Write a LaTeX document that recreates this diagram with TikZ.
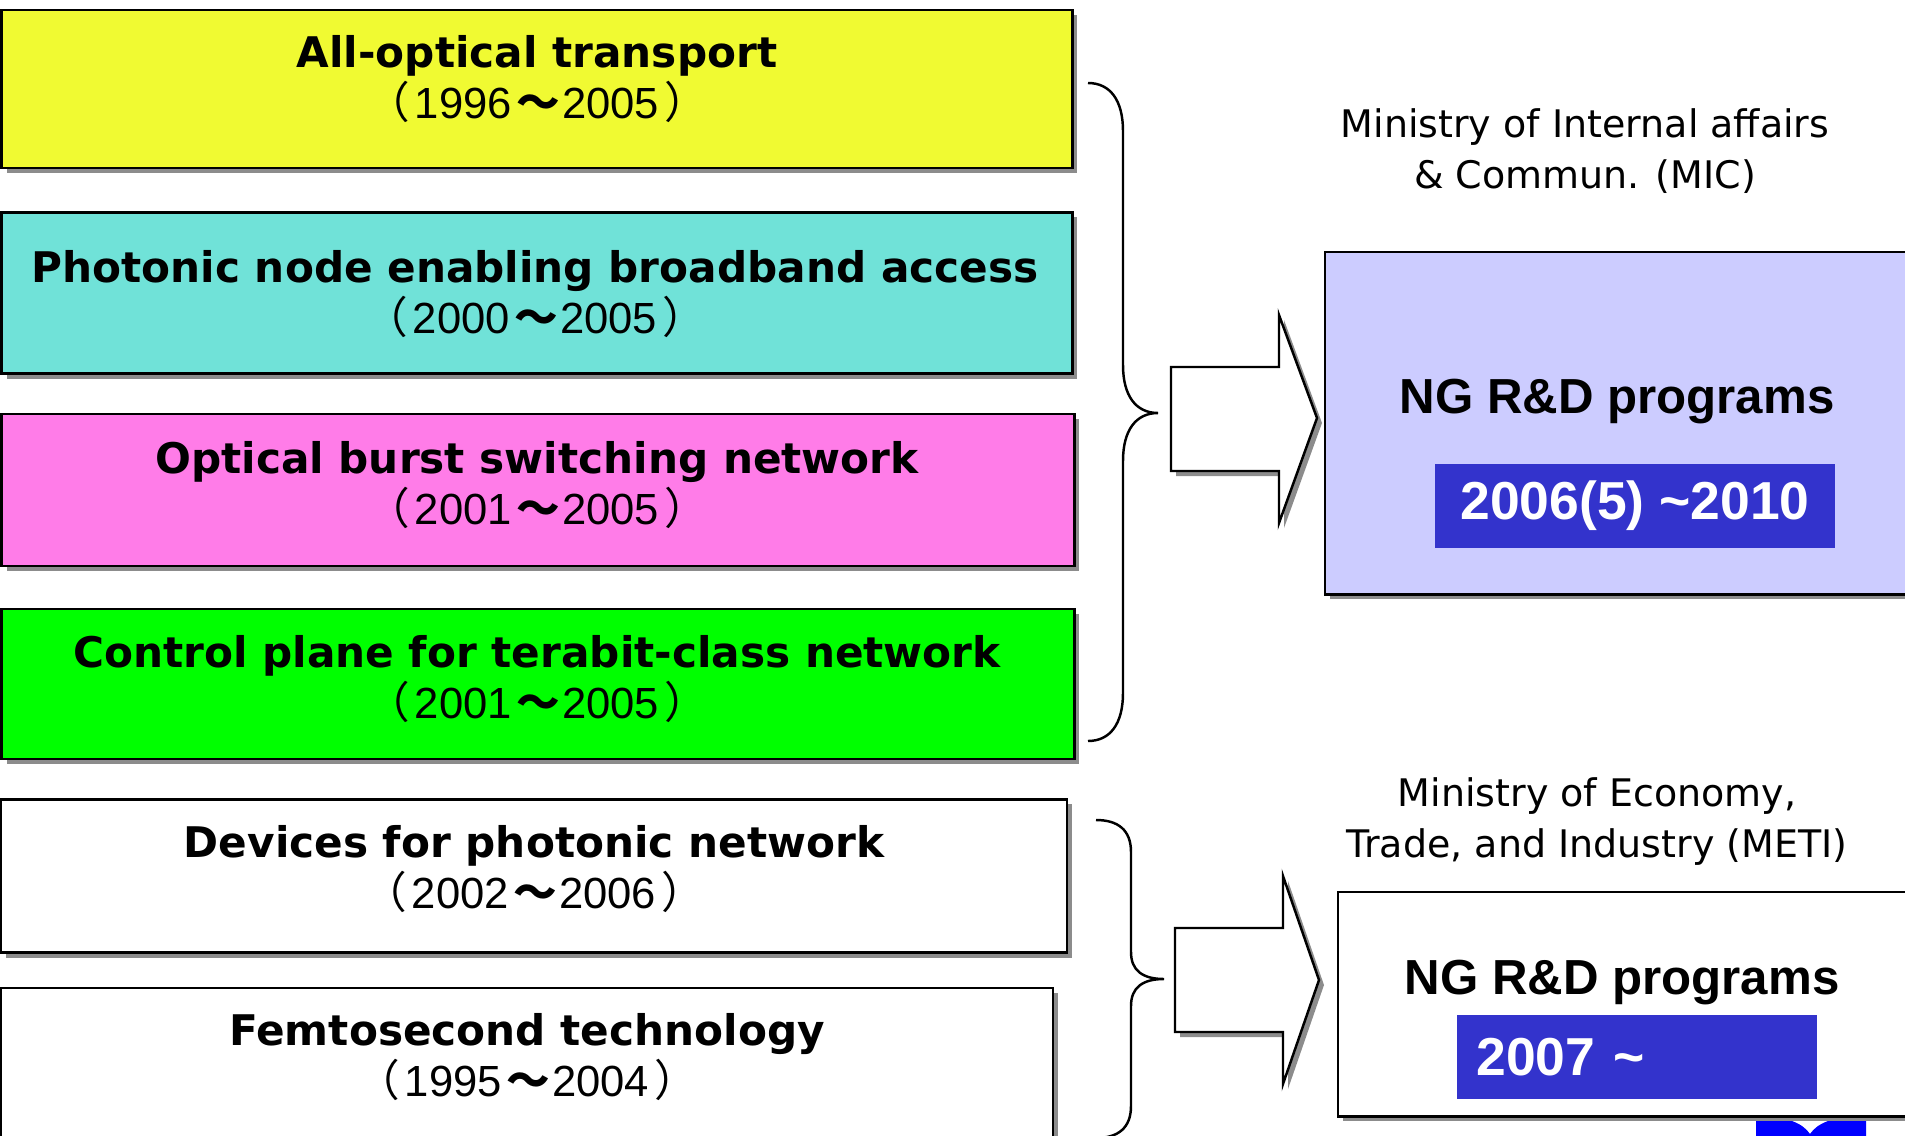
\documentclass[tikz,border=0pt]{standalone}
\usepackage{fontspec}
\setmainfont{DejaVu Sans}
\newfontfamily\cjk{Noto Sans CJK JP}
\newfontfamily\arial{Liberation Sans}
\usetikzlibrary{shadows}

\definecolor{aotyellow}{RGB}{240,250,50}
\definecolor{pnbcyan}{RGB}{112,226,216}
\definecolor{obspink}{RGB}{255,124,232}
\definecolor{cpgreen}{RGB}{0,255,0}
\definecolor{miclilac}{RGB}{204,204,255}
\definecolor{yearblue}{RGB}{51,51,204}
\definecolor{logoblue}{RGB}{0,0,255}

\newcommand{\yearspan}[2]{{\arial\mdseries\fontsize{12.4}{14.5}\selectfont{\cjk （}\kern0.12em#1\kern0.1em{\cjk\bfseries 〜}\kern0.05em#2\kern0.12em{\cjk ）}}}

\begin{document}
\begin{tikzpicture}[x=0.01cm, y=-0.01cm, line width=0.7pt]
  \tikzstyle{shade} = [drop shadow={shadow xshift=0.05cm, shadow yshift=-0.05cm, fill=black!45, opacity=1}]
  \tikzstyle{proj} = [draw, rectangle, shade, inner sep=0pt]
  \tikzstyle{caption} = [align=center, font=\bfseries\fontsize{12}{14.5}\selectfont]
  \tikzstyle{prog} = [draw, rectangle, shade, anchor=north west, inner sep=0pt]
  \tikzstyle{progname} = [font=\arial\bfseries\fontsize{14}{16}\selectfont]
  \tikzstyle{yearbar} = [fill=yearblue, text=white, inner sep=0pt, minimum height=0.83cm, font=\arial\bfseries\fontsize{15.2}{18}\selectfont]
  \tikzstyle{ministry} = [align=center, font=\fontsize{10.8}{14.5}\selectfont]
  \tikzstyle{fatarrow} = [draw, fill=white, shade]
  \clip (0,0) rectangle (1905,1136);

  \node [proj, fill=aotyellow, minimum width=10.70cm, minimum height=1.58cm] (aot) at (537,89) {};
  \node [proj, fill=pnbcyan, minimum width=10.70cm, minimum height=1.61cm] (pnb) at (537,293) {};
  \node [proj, fill=obspink, minimum width=10.72cm, minimum height=1.52cm] (obs) at (538,490) {};
  \node [proj, fill=cpgreen, minimum width=10.72cm, minimum height=1.50cm] (cp) at (538,684) {};
  \node [proj, fill=white, minimum width=10.65cm, minimum height=1.53cm] (dev) at (534,876) {};
  \node [proj, fill=white, minimum width=10.51cm, minimum height=2.10cm, anchor=north] (fs) at (527,987) {};

  \node [caption] (aottext) at (537,79) {All-optical transport\\\yearspan{1996}{2005}};
  \node [caption] (pnbtext) at (535,294) {Photonic node enabling broadband access\\\yearspan{2000}{2005}};
  \node [caption] (obstext) at (537,485) {Optical burst switching network\\\yearspan{2001}{2005}};
  \node [caption] (cptext) at (537,679) {Control plane for terabit-class network\\\yearspan{2001}{2005}};
  \node [caption] (devtext) at (534,869) {Devices for photonic network\\\yearspan{2002}{2006}};
  \node [caption] (fstext) at (527,1057) {Femtosecond technology\\\yearspan{1995}{2004}};

  \node [ministry] (micorg) at (1585,151) {Ministry of Internal affairs\\\& Commun. (MIC)};
  \node [prog, fill=miclilac, minimum width=8cm, minimum height=3.42cm] (mic) at (1324,251) {};
  \node [progname] (micname) at (1617,402) {NG R\&D programs};
  \node [yearbar, minimum width=3.99cm] (micyears) at (1635,506) {2006(5) \textasciitilde2010};

  \node [ministry] (metiorg) at (1597,822) {Ministry of Economy,\\Trade, and Industry (METI)};
  \node [prog, fill=white, minimum width=8cm, minimum height=2.24cm] (meti) at (1337,891) {};
  \node [progname] (metiname) at (1622,983) {NG R\&D programs};
  \node [yearbar, text width=3.21cm, inner xsep=0.19cm, align=left] (metiyears) at (1637,1057) {2007 \textasciitilde};

  \draw (1088,83) .. controls (1110,83) and (1123,100) .. (1123,131) -- (1123,365)
    .. controls (1123,396) and (1136,413) .. (1158,413) .. controls (1136,413) and (1123,430) .. (1123,461)
    -- (1123,693) .. controls (1123,724) and (1110,741) .. (1088,741);
  \draw (1096,820) .. controls (1118,820) and (1131,830) .. (1131,852) -- (1131,952)
    .. controls (1131,970) and (1142,979) .. (1164,979) .. controls (1142,979) and (1131,988) .. (1131,1006)
    -- (1131,1106) .. controls (1131,1128) and (1118,1138) .. (1096,1138);

  \draw [fatarrow] (1171,367) -- (1279,367) -- (1279,315) -- (1317,418) -- (1279,523) -- (1279,471) -- (1171,471) -- cycle;
  \draw [fatarrow] (1175,928) -- (1283,928) -- (1283,876) -- (1319,980) -- (1283,1084) -- (1283,1032) -- (1175,1032) -- cycle;

  \fill [logoblue] (1756,1121) -- (1792,1121) .. controls (1800,1124) and (1806,1128) .. (1810,1134)
    .. controls (1814,1128) and (1820,1124) .. (1828,1121) -- (1866,1121) -- (1866,1140) -- (1756,1140) -- cycle;
\end{tikzpicture}
\end{document}
